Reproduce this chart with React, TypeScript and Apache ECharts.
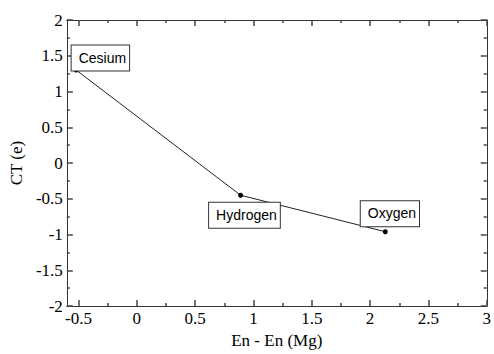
import React, { useEffect, useRef } from "react";
import * as echarts from "echarts";

const elements = ["Cesium", "Hydrogen", "Oxygen"];
const enDiff = [-0.52, 0.89, 2.13];
const chargeTransfer = [1.3, -0.45, -0.96];
const xMajorTicks = [-0.5, 0, 0.5, 1, 1.5, 2, 2.5, 3];
const xMinorTicks = [-0.25, 0.25, 0.75, 1.25, 1.75, 2.25, 2.75];

const labelOffsets: number[][] = [
  [-2, -22],
  [-29, 10],
  [-22, -28],
];

const serif = "Liberation Serif";
const sans = "Liberation Sans";
const axisColor = "#333";
const tickColor = "#444";

export default function App() {
  const ref = useRef<HTMLDivElement>(null);
  useEffect(() => {
    if (!ref.current) return;
    const chart = echarts.init(ref.current, undefined, { renderer: "svg" });
    const xBase = (pos: string, ticks: number[], len: number, showLine: boolean, showLabel: boolean, name?: string) => ({
      type: "value",
      position: pos,
      min: -0.6,
      max: 3,
      name: name,
      nameLocation: "middle",
      nameGap: 24,
      nameTextStyle: { fontFamily: serif, fontSize: 17, color: "#000", verticalAlign: "top" },
      axisLine: { show: showLine, onZero: false, lineStyle: { color: axisColor, width: 1 } },
      axisTick: { show: true, inside: true, length: len, customValues: ticks, lineStyle: { color: tickColor, width: 1.5 } },
      axisLabel: {
        show: showLabel,
        customValues: xMajorTicks,
        fontFamily: serif,
        fontSize: 17,
        color: "#000",
        margin: 4,
      },
      splitLine: { show: false },
    });
    const yBase = (pos: string, showLabel: boolean, name?: string) => ({
      type: "value",
      position: pos,
      min: -2,
      max: 2,
      interval: 0.5,
      name: name,
      nameLocation: "middle",
      nameGap: 39,
      nameTextStyle: { fontFamily: serif, fontSize: 17, color: "#000" },
      axisLine: { show: true, onZero: false, lineStyle: { color: axisColor, width: 1 } },
      axisTick: { show: true, inside: true, length: 6, lineStyle: { color: tickColor, width: 1.5 } },
      minorTick: { show: true, splitNumber: 2, length: 3, lineStyle: { color: tickColor, width: 1.5 } },
      axisLabel: {
        show: showLabel,
        fontFamily: serif,
        fontSize: 17,
        color: "#000",
        margin: 4,
      },
      splitLine: { show: false },
    });
    chart.setOption({
      animation: false,
      backgroundColor: "#fff",
      textStyle: { fontFamily: serif },
      grid: { left: 64, right: 5, top: 20, bottom: 38, containLabel: false },
      xAxis: [
        xBase("bottom", xMajorTicks, 6, true, true, "En - En (Mg)"),
        xBase("bottom", xMinorTicks, 3, false, false),
        xBase("top", xMajorTicks, 6, true, false),
        xBase("top", xMinorTicks, 3, false, false),
      ],
      yAxis: [yBase("left", true, "CT (e)"), yBase("right", false)],
      series: [
        {
          type: "line",
          xAxisIndex: 0,
          yAxisIndex: 0,
          symbol: "circle",
          symbolSize: 5,
          lineStyle: { color: "#222", width: 1 },
          itemStyle: { color: "#000" },
          data: elements.map((name, i) => ({
            name,
            value: [enDiff[i], chargeTransfer[i]],
            label: {
              show: true,
              position: labelOffsets[i],
              formatter: "{b}",
              fontFamily: sans,
              fontSize: 14,
              lineHeight: 16,
              color: "#000",
              backgroundColor: "#fff",
              borderColor: "#333",
              borderWidth: 1,
              padding: [4, 3, 5, 7],
            },
          })),
        },
      ],
    });
    return () => chart.dispose();
  }, []);
  return <div ref={ref} style={{ width: 494, height: 354, position: "absolute", left: 0, top: 0 }} />;
}
